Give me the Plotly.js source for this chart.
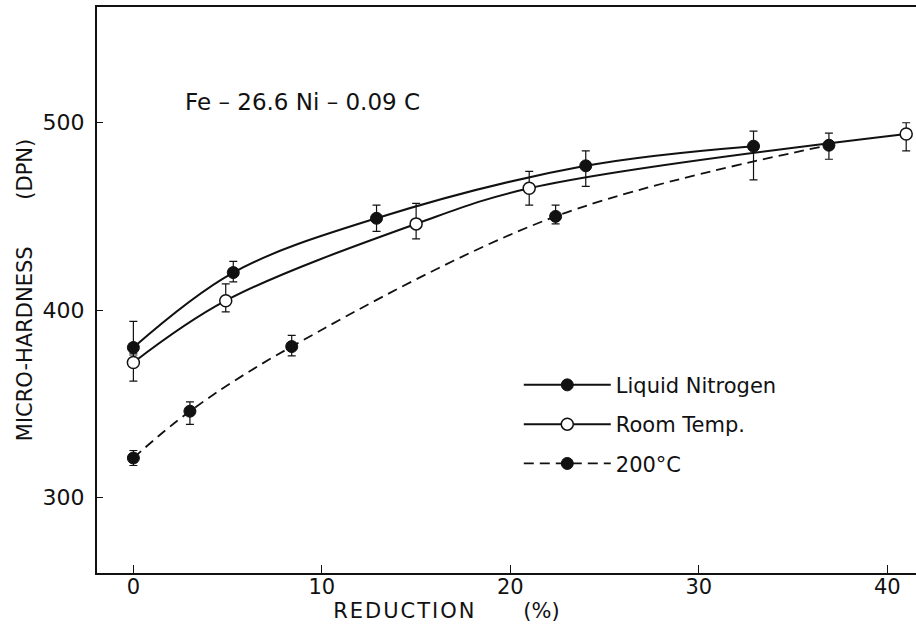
<!DOCTYPE html>
<html>
<head>
<meta charset="utf-8">
<script src="https://cdn.plot.ly/plotly-3.0.1.min.js"></script>
<style>html,body{margin:0;padding:0;background:#fff;}#chart{width:916px;height:627px;}</style>
</head>
<body>
<div id="chart"></div>
<script>
// Reduction (%) and micro-hardness (DPN)
const lnX = [0, 5.3, 12.9, 24.0, 32.9];
const lnY = [380, 420, 449, 477, 487.5];
const lnErrPlus = [14, 6, 7, 8, 8];
const lnErrMinus = [4, 5, 7, 11, 18];

const rtX = [0, 4.9, 15.0, 21.0, 41.0];
const rtY = [372, 405, 446, 465, 494];
const rtErrPlus = [5, 9, 11, 9, 6];
const rtErrMinus = [10, 6, 8, 9, 9];

const hotX = [0, 3.0, 8.4, 22.4, 36.9];
const hotY = [321, 346, 380.5, 450, 488];
const hotErrPlus = [4, 5, 6, 6, 6.5];
const hotErrMinus = [4, 7, 5, 4, 7.5];

const seriesNames = ['Liquid Nitrogen', 'Room Temp.', '200°C'];
const xTickVals = [0, 10, 20, 30, 40];
const xTickText = ['0', '10', '20', '30', '40'];
const yTickVals = [300, 400, 500];
const yTickText = ['300', '400', '500'];

const FONT = 'DejaVu Sans, Arial, sans-serif';

function errBar(plus, minus) {
  return {type: 'data', symmetric: false, array: plus, arrayminus: minus,
          color: '#111', thickness: 1.2, width: 4};
}

const traces = [
  {x: rtX, y: rtY, name: seriesNames[1], legendgroup: 'b', legendrank: 2,
   mode: 'lines+markers', line: {color: '#111', width: 2, shape: 'spline'},
   marker: {symbol: 'circle', size: 12, color: '#fff', line: {color: '#111', width: 1.5}},
   error_y: errBar(rtErrPlus, rtErrMinus)},
  {x: lnX, y: lnY, name: seriesNames[0], legendgroup: 'a', legendrank: 1,
   mode: 'lines+markers', line: {color: '#111', width: 2, shape: 'spline'},
   marker: {symbol: 'circle', size: 12, color: '#111', line: {color: '#111', width: 1}},
   error_y: errBar(lnErrPlus, lnErrMinus)},
  {x: hotX, y: hotY, name: seriesNames[2], legendgroup: 'c', legendrank: 3,
   mode: 'lines+markers', line: {color: '#111', width: 1.8, shape: 'spline', dash: '10px,6px'},
   marker: {symbol: 'circle', size: 12, color: '#111', line: {color: '#111', width: 1}},
   error_y: errBar(hotErrPlus, hotErrMinus)}
];

const nb = '\u00A0';
const layout = {
  width: 916, height: 627,
  margin: {l: 97, r: 0, t: 7, b: 54, pad: 0},
  paper_bgcolor: '#fff', plot_bgcolor: '#fff',
  font: {family: FONT, color: '#111', size: 20},
  showlegend: true,
  legend: {
    x: 0.515, y: 0.368, xanchor: 'left', yanchor: 'top',
    bgcolor: 'rgba(0,0,0,0)', borderwidth: 0,
    font: {family: FONT, size: 21, color: '#111'},
    itemwidth: 87, traceorder: 'grouped', tracegroupgap: 9,
    itemclick: false
  },
  xaxis: {
    range: [-1.93, 41.52], showgrid: false, zeroline: false,
    showline: true, linecolor: '#111', linewidth: 2, mirror: true,
    ticks: 'inside', ticklen: 8, tickwidth: 1, tickcolor: '#111',
    tickmode: 'array', tickvals: xTickVals, ticktext: xTickText,
    tickfont: {family: FONT, size: 21, color: '#111'},
    ticklabelstandoff: -6,
    title: {text: '<span style="letter-spacing:2px">REDUCTION</span>' + nb.repeat(7) + '(%)' + nb.repeat(18) + '\u200B',
            font: {family: FONT, size: 21, color: '#111'}, standoff: 5}
  },
  yaxis: {
    range: [259.6, 561.8], showgrid: false, zeroline: false,
    showline: true, linecolor: '#111', linewidth: 2, mirror: false,
    ticks: 'inside', ticklen: 6, tickwidth: 1, tickcolor: '#111',
    tickmode: 'array', tickvals: yTickVals, ticktext: yTickText,
    tickfont: {family: FONT, size: 22, color: '#111'},
    ticklabelstandoff: 6,
    title: {text: 'MICRO-HARDNESS' + nb.repeat(7) + '(DPN)',
            font: {family: FONT, size: 21, color: '#111'}, standoff: 4}
  },
  annotations: [{
    text: 'Fe – 26.6 Ni – 0.09 C', xref: 'paper', yref: 'paper',
    x: 0.2515, y: 0.832, xanchor: 'center', yanchor: 'middle', showarrow: false,
    font: {family: FONT, size: 23, color: '#111'}
  }]
};

Plotly.newPlot('chart', traces, layout, {displayModeBar: false, staticPlot: true});
</script>
</body>
</html>
